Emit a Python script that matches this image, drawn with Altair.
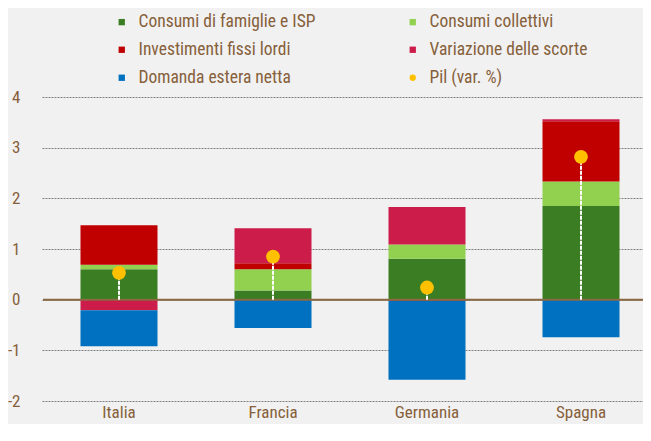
import altair as alt
import pandas as pd

countries = ["Italia", "Francia", "Germania", "Spagna"]
famiglie = [0.60, 0.18, 0.81, 1.85]
collettivi = [0.09, 0.42, 0.28, 0.48]
investimenti = [0.78, 0.12, -0.02, 1.19]
scorte = [-0.21, 0.69, 0.74, 0.04]
estera = [-0.71, -0.56, -1.56, -0.74]
pil = [0.53, 0.85, 0.24, 2.82]

series_names = ["Consumi di famiglie e ISP", "Consumi collettivi", "Investimenti fissi lordi",
                "Variazione delle scorte", "Domanda estera netta"]
series_colors = ["#3b7d23", "#92d050", "#c00000", "#cc1c4a", "#0070c0"]
pil_name = "Pil (var. %)"
pil_color = "#ffc000"

# legend is filled column by column: reorder so rows read as in the reference
legend_domain = [series_names[0], series_names[2], series_names[4],
                 series_names[1], series_names[3], pil_name]
color_map = dict(zip(series_names, series_colors))
color_map[pil_name] = pil_color
colors = [color_map[n] for n in legend_domain]
shapes = ["circle" if n == pil_name else "square" for n in legend_domain]

FONT = "Roboto Condensed"
TXT = "#86603a"

rows = []
for vals, name, o in zip([famiglie, collettivi, investimenti, scorte, estera], series_names, range(5)):
    for c, v in zip(countries, vals):
        rows.append({"paese": c, "serie": name, "valore": v, "ord": o})
bars_df = pd.DataFrame(rows)
pil_df = pd.DataFrame({"paese": countries, "pil": pil, "zero": [0] * 4, "serie": [pil_name] * 4})

W, H = 600, 304
PAD_T, PAD_L = 89, 35
xscale = alt.Scale(domain=countries, range=[-1, 615], paddingInner=0.5, paddingOuter=0.25)
yscale = alt.Scale(domain=[-2, 4], nice=False)
cscale = alt.Scale(domain=legend_domain, range=colors)
leg = alt.Legend(title=None, orient="none", legendX=70, legendY=-84, columns=2, columnPadding=88,
                 rowPadding=9, symbolSize=40, labelFontSize=17.5, labelColor=TXT, labelFont=FONT,
                 symbolStrokeWidth=0, labelOffset=8, padding=0, labelLimit=400)

x = alt.X("paese:N", scale=xscale, sort=countries,
          axis=alt.Axis(title=None, labelAngle=0, ticks=False, domain=False, grid=False,
                        labelFontSize=17, labelColor=TXT, labelFont=FONT, labelPadding=3))

bars = alt.Chart(bars_df).mark_bar().encode(
    x=x,
    y=alt.Y("sum(valore):Q", scale=yscale, stack="zero",
            axis=alt.Axis(title=None, values=[-2, -1, 0, 1, 2, 3, 4], ticks=False, domain=False,
                          labelExpr="datum.value < 0 ? '-' + abs(datum.value) : '' + datum.value",
                          grid=True, gridDash=[2, 1], gridColor="#808080", gridWidth=1,
                          labelFontSize=17, labelColor=TXT, labelFont=FONT, labelPadding=23)),
    color=alt.Color("serie:N", scale=cscale, legend=leg),
    order=alt.Order("ord:Q", sort="ascending"),
)

zero = alt.Chart(pd.DataFrame({"y": [0]})).mark_rule(color="#8b6a43", strokeWidth=2).encode(
    y=alt.Y("y:Q", scale=yscale), x=alt.value(0), x2=alt.value(W))

pil_rule = alt.Chart(pil_df).mark_rule(color="white", strokeWidth=2, strokeDash=[4, 1]).encode(
    x=alt.X("paese:N", scale=xscale, sort=countries, bandPosition=0.5),
    y=alt.Y("zero:Q", scale=yscale), y2="pil:Q")

points = alt.Chart(pil_df).mark_point(filled=True, size=190, opacity=1).encode(
    x=alt.X("paese:N", scale=xscale, sort=countries, bandPosition=0.5),
    y=alt.Y("pil:Q", scale=yscale),
    color=alt.Color("serie:N", scale=cscale, legend=leg),
    shape=alt.Shape("serie:N", scale=alt.Scale(domain=legend_domain, range=shapes), legend=leg),
)

chart = alt.layer(bars, zero, pil_rule, points).properties(
    width=W, height=H, background="#f1f1f1",
    autosize=alt.AutoSizeParams(type="none"),
    padding={"left": PAD_L, "top": PAD_T, "right": 0, "bottom": 416 - PAD_T - H},
).configure_view(stroke=None)

chart.save("out.html", embed_options={"renderer": "svg", "actions": False})
